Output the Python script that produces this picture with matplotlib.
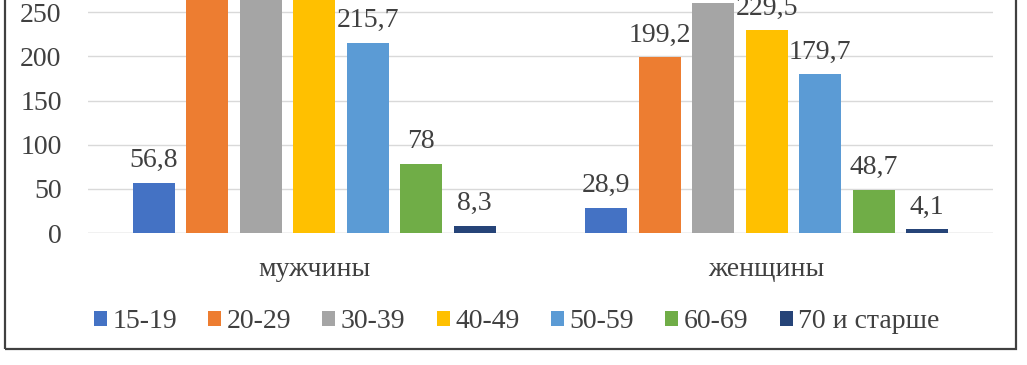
import numpy as np
import matplotlib
matplotlib.use('Agg')
import matplotlib.pyplot as plt
from matplotlib.patches import Rectangle

plt.rcParams['font.family'] = ['Liberation Serif', 'DejaVu Serif']

groups = ['мужчины', 'женщины']
ages = ['15-19', '20-29', '30-39', '40-49', '50-59', '60-69', '70 и старше']
colors = ['#4472C4', '#ED7D31', '#A5A5A5', '#FFC000', '#5B9BD5', '#70AD47', '#264478']

# rows = age groups, columns = мужчины, женщины
# (bars above 263 are cut off by the picture edge; their values are guesses)
values = [
    [56.8, 28.9],
    [330.0, 199.2],
    [360.0, 260.5],
    [320.0, 229.5],
    [215.7, 179.7],
    [78.0, 48.7],
    [8.3, 4.1],
]

txt = '#404040'
fs = 20

fig = plt.figure(figsize=(10.27, 3.65), dpi=100)
ax = fig.add_axes([88/1027, 0.3616, 905/1027, 300*0.8828/365])

x = np.arange(len(groups))
step = 0.1182
width = 0.0928
for i, (age, col) in enumerate(zip(ages, colors)):
    pos = x + (i - 3) * step
    bars = ax.bar(pos, values[i], width, color=col, label=age, zorder=3)
    for b, v in zip(bars, values[i]):
        s = ('%g' % v).replace('.', ',')
        ax.annotate(s, (b.get_x() + b.get_width()/2, v), xytext=(0, 7),
                    textcoords='offset points', ha='center', va='bottom',
                    fontsize=fs, color=txt, annotation_clip=False)

ax.set_xlim(-0.5, 1.5)
ax.set_ylim(0, 300)
ax.set_yticks(np.arange(0, 301, 50))
ax.set_xticks(x)
ax.set_xticklabels(groups)
ax.tick_params(axis='y', length=0, pad=19, labelsize=fs, labelcolor=txt)
ax.tick_params(axis='x', length=0, pad=17, labelsize=fs, labelcolor=txt)
ax.grid(axis='y', color='#D9D9D9', linewidth=1, zorder=0)
for sp in ax.spines.values():
    sp.set_visible(False)
ax.axhline(0, color='#D9D9D9', linewidth=1, zorder=2)

fig.legend(loc='center', bbox_to_anchor=(0.503, 0.118), ncol=7, frameon=False,
           fontsize=fs, handlelength=0.47, handleheight=0.47, handletextpad=0.2,
           columnspacing=1.12, labelcolor=txt, borderpad=0.2)

fig.patches.append(Rectangle((5/1027, 16/365), 1011/1027, 1.2, transform=fig.transFigure,
                             fill=False, edgecolor='#404040', linewidth=1.6))

fig.savefig('out.png', dpi=100)
